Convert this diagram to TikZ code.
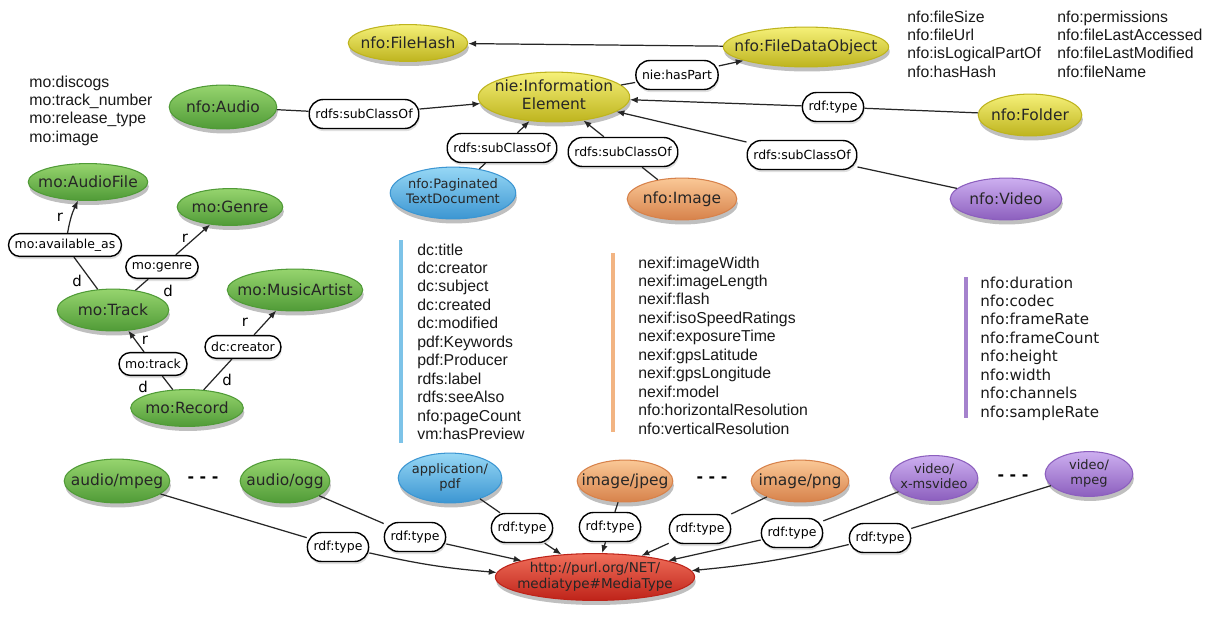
\documentclass[tikz,border=0pt]{standalone}
\usepackage{fontspec}
\setmainfont{Liberation Sans}
\newfontfamily\lgf{DejaVu Sans}
\usetikzlibrary{shapes.geometric,shadows,arrows.meta}
\definecolor{gM}{RGB}{108,188,78}\definecolor{gL}{RGB}{150,212,110}\definecolor{gD}{RGB}{80,155,55}
\definecolor{yM}{RGB}{226,220,40}\definecolor{yL}{RGB}{245,240,120}\definecolor{yD}{RGB}{190,180,30}
\definecolor{bM}{RGB}{90,180,230}\definecolor{bL}{RGB}{150,215,245}\definecolor{bD}{RGB}{60,150,210}
\definecolor{oM}{RGB}{240,160,100}\definecolor{oL}{RGB}{250,200,150}\definecolor{oD}{RGB}{215,130,75}
\definecolor{pM}{RGB}{170,125,215}\definecolor{pL}{RGB}{205,175,240}\definecolor{pD}{RGB}{140,95,190}
\definecolor{rM}{RGB}{225,55,45}\definecolor{rL}{RGB}{240,110,90}\definecolor{rD}{RGB}{190,35,25}
\definecolor{barB}{RGB}{125,195,232}\definecolor{barO}{RGB}{242,180,130}\definecolor{barP}{RGB}{165,130,205}
\newcommand\zb[1]{\makebox[0pt]{#1}}
\newcommand\zt[1]{\makebox[0pt]{\begin{tabular}{@{}c@{}}#1\end{tabular}}}
\tikzset{
  ellbase/.style={ellipse, inner sep=0pt, line width=0.6pt,
    drop shadow={shadow xshift=0.6pt, shadow yshift=-2.6pt, opacity=0.25, fill=black},
    text=black!85, font=\lgf\fontsize{8.8}{10}\selectfont},
  sz/.style 2 args={minimum width=#1*0.567pt, minimum height=#2*0.567pt},
  small/.style={font=\lgf\fontsize{7.4}{8.4}\selectfont},
  gnode/.style={ellbase, draw=gD, top color=gL, middle color=gM, bottom color=gD},
  ynode/.style={ellbase, draw=yD, top color=yL, middle color=yM, bottom color=yD},
  bnode/.style={ellbase, draw=bD, top color=bL, middle color=bM, bottom color=bD},
  onode/.style={ellbase, draw=oD, top color=oL, middle color=oM, bottom color=oD},
  pnode/.style={ellbase, draw=pD, top color=pL, middle color=pM, bottom color=pD},
  rnode/.style={ellbase, draw=rD, top color=rL, middle color=rM, bottom color=rD},
  lbl/.style={rectangle, rounded corners=8pt, draw=black, line width=0.8pt, fill=white,
    drop shadow={shadow xshift=0.5pt, shadow yshift=-1.5pt, opacity=0.12, fill=black},
    inner xsep=3.5pt, inner ysep=0pt, minimum height=16.5pt,
    font=\lgf\fontsize{7.1}{8}\selectfont, text=black},
  mlbl/.style={lbl, rounded corners=6.5pt, minimum height=13pt},
  edge/.style={line width=0.7pt, draw=black!85},
  arr/.style={-{Latex[length=4.5pt,width=3.6pt]}},
  rd/.style={inner sep=0pt, font=\lgf\fontsize{8.5}{9}\selectfont},
  lst/.style={inner sep=0pt, anchor=base west, font=\fontsize{9}{10.5}\selectfont, text=black!90},
  lstv/.style={lst, font=\lgf\fontsize{8.6}{10.5}\selectfont},
  dotsn/.style={inner sep=0pt, font=\lgf\bfseries\fontsize{9}{10}\selectfont}
}
\begin{document}
\begin{tikzpicture}[x=0.02cm,y=-0.02cm]
\useasboundingbox (0,0) rectangle (1211,622);
\fill[white] (0,0) rectangle (1211,622);

% yellow
\node[ynode, sz={120}{37}] (fh) at (408,43) {\zb{nfo:FileHash}};
\node[ynode, sz={166}{40}] (fdo) at (806,47) {\zb{nfo:FileDataObject}};
\node[ynode, sz={152}{50}] (ie) at (554,97) {\zt{nie:Information\\Element}};
\node[ynode, sz={104}{42}] (folder) at (1030,115) {\zb{nfo:Folder}};
% green music
\node[gnode, sz={108}{44}] (audio) at (223,107) {\zb{nfo:Audio}};
\node[gnode, sz={120}{37}] (audiofile) at (88,182) {\zb{mo:AudioFile}};
\node[gnode, sz={106}{37}] (genre) at (230,207) {\zb{mo:Genre}};
\node[gnode, sz={112}{42}] (track) at (113,310) {\zb{mo:Track}};
\node[gnode, sz={136}{42}] (artist) at (295,290) {\zb{mo:MusicArtist}};
\node[gnode, sz={113}{37}] (record) at (187,408) {\zb{mo:Record}};
% subclasses
\node[bnode, small, sz={126}{52}] (ptd) at (453,193) {\zt{nfo:Paginated\\TextDocument}};
\node[onode, sz={110}{42}] (image) at (682,199) {\zb{nfo:Image}};
\node[pnode, sz={112}{42}] (video) at (1006,199) {\zb{nfo:Video}};
% media types
\node[gnode, sz={106}{44}] (amp) at (117,481) {\zb{audio/mpeg}};
\node[gnode, sz={90}{44}] (aogg) at (285,481) {\zb{audio/ogg}};
\node[bnode, small, sz={104}{50}] (pdf) at (450,478) {\zt{application/\\pdf}};
\node[onode, sz={96}{42}] (jpeg) at (625,481) {\zb{image/jpeg}};
\node[onode, sz={98}{42}] (png) at (800,481) {\zb{image/png}};
\node[pnode, small, sz={88}{45}] (xms) at (934,478) {\zt{video/\\x-msvideo}};
\node[pnode, small, sz={88}{45}] (vmpeg) at (1089,474) {\zt{video/\\mpeg}};
\node[rnode, font=\lgf\fontsize{7.7}{9}\selectfont, sz={200}{47}] (mt) at (595,577) {\zt{http://purl.org/NET/\\mediatype\#MediaType}};

\node[dotsn] (d1) at (203,480) {- - -};
\node[dotsn] (d2) at (712,480) {- - -};
\node[dotsn] (d3) at (1013,478) {- - -};

% labels
\node[lbl] (l_audio) at (364,114) {rdfs:subClassOf};
\node[lbl] (l_haspart) at (677,75) {nie:hasPart};
\node[lbl] (l_folder) at (833,107) {rdf:type};
\node[lbl] (l_ptd) at (502,148) {rdfs:subClassOf};
\node[lbl] (l_img) at (623,152) {rdfs:subClassOf};
\node[lbl] (l_vid) at (802,155) {rdfs:subClassOf};
\node[mlbl] (l_avail) at (65,245) {mo:available\_as};
\node[mlbl] (l_genre) at (162,267) {mo:genre};
\node[mlbl] (l_track) at (153,364) {mo:track};
\node[mlbl] (l_creator) at (243,347) {dc:creator};
\node[lbl] (t1) at (338,547) {rdf:type};
\node[lbl] (t2) at (415,537) {rdf:type};
\node[lbl] (t3) at (522,528) {rdf:type};
\node[lbl] (t4) at (610,527) {rdf:type};
\node[lbl] (t5) at (700,529) {rdf:type};
\node[lbl] (t6) at (792,533) {rdf:type};
\node[lbl] (t7) at (880,538) {rdf:type};

% edges (top)
\draw[edge,arr] (fdo) -- (fh);
\draw[edge] (ie) -- (l_haspart);
\draw[edge,arr] (l_haspart) -- (fdo);
\draw[edge] (folder) -- (l_folder);
\draw[edge,arr] (l_folder) -- (ie);
\draw[edge] (audio) -- (l_audio);
\draw[edge,arr] (l_audio) -- (ie);
\draw[edge] (ptd) -- (l_ptd);
\draw[edge,arr] (l_ptd) -- (ie);
\draw[edge] (image) -- (l_img);
\draw[edge,arr] (l_img) -- (ie);
\draw[edge] (video) -- (l_vid);
\draw[edge,arr] (l_vid) -- (ie);
% music
\draw[edge] (track) -- (l_avail);
\draw[edge,arr] (l_avail) to[bend left=8] (audiofile);
\draw[edge] (track) -- (l_genre);
\draw[edge,arr] (l_genre) -- (genre);
\draw[edge] (record) -- (l_track);
\draw[edge,arr] (l_track) -- (track);
\draw[edge] (record) -- (l_creator);
\draw[edge,arr] (l_creator) -- (artist);
\node[rd] (r1) at (60,217) {r};
\node[rd] (dd1) at (77,281) {d};
\node[rd] (r2) at (185,238) {r};
\node[rd] (dd2) at (168,291) {d};
\node[rd] (r3) at (145,340) {r};
\node[rd] (dd3) at (143,387) {d};
\node[rd] (r4) at (245,322) {r};
\node[rd] (dd4) at (227,380) {d};
% bottom
\draw[edge] (amp) -- (t1);
\draw[edge,arr] (t1) to[bend right=4] (mt);
\draw[edge] (aogg) -- (t2);
\draw[edge,arr] (t2) -- (mt);
\draw[edge] (pdf) -- (t3);
\draw[edge,arr] (t3) -- (mt);
\draw[edge] (jpeg) -- (t4);
\draw[edge,arr] (t4) -- (mt);
\draw[edge] (png) -- (t5);
\draw[edge,arr] (t5) -- (mt);
\draw[edge] (xms) -- (t6);
\draw[edge,arr] (t6) -- (mt);
\draw[edge] (vmpeg) -- (t7);
\draw[edge,arr] (t7) to[bend left=4] (mt);

% property lists
\node[lst] (molist) at (29,87) {\begin{tabular}[t]{@{}l@{}}mo:discogs\\mo:track\_number\\mo:release\_type\\mo:image\end{tabular}};
\node[lst] (fl1) at (907,22) {\begin{tabular}[t]{@{}l@{}}nfo:fileSize\\nfo:fileUrl\\nfo:isLogicalPartOf\\nfo:hasHash\end{tabular}};
\node[lst] (fl2) at (1057,22) {\begin{tabular}[t]{@{}l@{}}nfo:permissions\\nfo:fileLastAccessed\\nfo:fileLastModified\\nfo:fileName\end{tabular}};
\draw[line width=2.6pt, barB] (401,240) -- (401,443);
\node[lst] (dclist) at (417,255) {\begin{tabular}[t]{@{}l@{}}dc:title\\dc:creator\\dc:subject\\dc:created\\dc:modified\\pdf:Keywords\\pdf:Producer\\rdfs:label\\rdfs:seeAlso\\nfo:pageCount\\vm:hasPreview\end{tabular}};
\draw[line width=2.6pt, barO] (613,253) -- (613,432);
\node[lst] (exlist) at (638,268) {\begin{tabular}[t]{@{}l@{}}nexif:imageWidth\\nexif:imageLength\\nexif:flash\\nexif:isoSpeedRatings\\nexif:exposureTime\\nexif:gpsLatitude\\nexif:gpsLongitude\\nexif:model\\nfo:horizontalResolution\\nfo:verticalResolution\end{tabular}};
\draw[line width=2.6pt, barP] (966,277) -- (966,418);
\node[lstv] (vlist) at (980,288) {\begin{tabular}[t]{@{}l@{}}nfo:duration\\nfo:codec\\nfo:frameRate\\nfo:frameCount\\nfo:height\\nfo:width\\nfo:channels\\nfo:sampleRate\end{tabular}};
\end{tikzpicture}
\end{document}
